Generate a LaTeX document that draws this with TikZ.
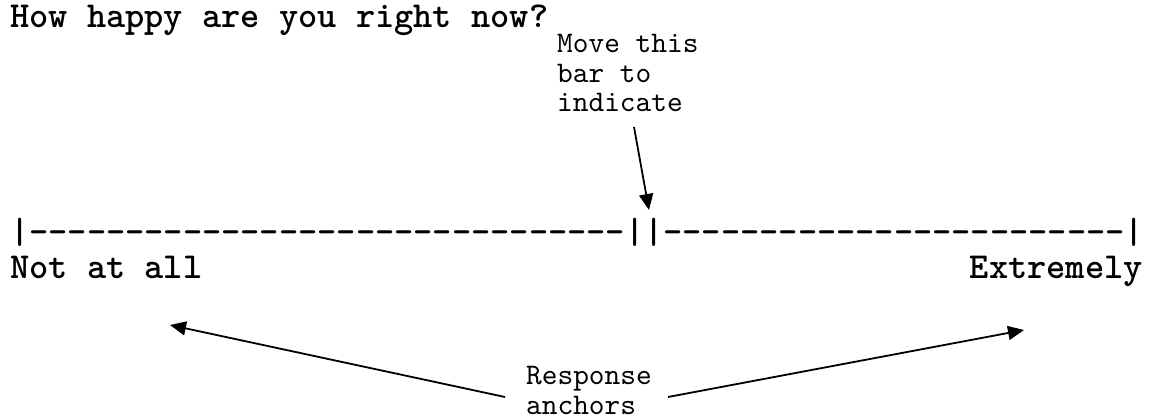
\documentclass[tikz,border=0pt]{standalone}
\usepackage{fontspec}
\newfontfamily\boldmono{lmmonolt10-bold}[Extension=.otf]
\newfontfamily\plainmono{lmmono10-regular}[Extension=.otf]
\usetikzlibrary{arrows.meta}
\tikzset{
  big/.style={font=\boldmono\fontsize{36.6}{40}\selectfont, inner sep=0pt, anchor=base west},
  small/.style={font=\plainmono\fontsize{29.9}{29.5}\selectfont, inner sep=0pt, anchor=base west, align=left},
  arr/.style={line width=1.8pt, -{Triangle[length=16pt,width=14pt]}}
}
\begin{document}
\begin{tikzpicture}[x=1pt,y=-1pt]
\useasboundingbox (0,0) rectangle (1154,419);
\node[big] (title) at (10,28) {How happy are you right now?};
\node[small] (move) at (557,112) {Move this\\bar to\\indicate};
\node[big] (bar) at (10,244) {|-------------------------------||------------------------|};
\node[big] (low) at (10,279) {Not at all};
\node[big, anchor=base east] (high) at (1143,279) {Extremely};
\node[small] (resp) at (526,414) {Response\\anchors};
\coordinate (mstart) at (634,127);
\coordinate (mtip) at (649,210);
\coordinate (lstart) at (505,397);
\coordinate (ltip) at (170,325);
\coordinate (rstart) at (668,397);
\coordinate (rtip) at (1024,330);
\draw[arr] (mstart) -- (mtip);
\draw[arr] (lstart) -- (ltip);
\draw[arr] (rstart) -- (rtip);
\end{tikzpicture}
\end{document}
